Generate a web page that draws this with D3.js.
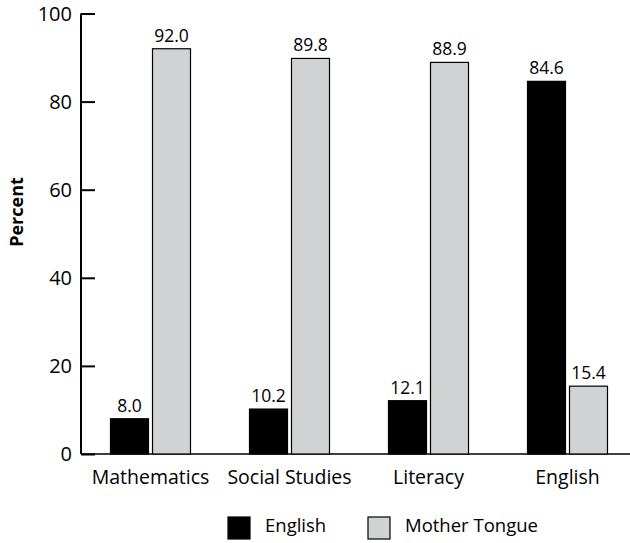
<!DOCTYPE html>
<html><head><meta charset="utf-8">
<script src="https://cdn.jsdelivr.net/npm/d3@7"></script>
<style>body{margin:0;background:#fff;} text{font-family:"Open Sans",sans-serif;fill:#000;}</style>
</head><body>
<svg id="c" width="630" height="543"></svg>
<script>
const categories = ["Mathematics","Social Studies","Literacy","English"];
const seriesNames = ["English","Mother Tongue"];
const englishValues = [8.0,10.2,12.1,84.6];
const motherTongueValues = [92.0,89.8,88.9,15.4];
const yTicks = [0,20,40,60,80,100];
const colors = ["#000000","#d1d2d4"];

const svg = d3.select("#c");
const x0 = d3.scaleBand().domain(categories).range([81,637]).paddingInner(0).paddingOuter(0);
const y = d3.scaleLinear().domain([0,100]).range([454,13.5]);
const barW = 38, gap = 4;
const x1 = d3.scaleOrdinal().domain(seriesNames).range([-(barW+gap/2), gap/2]);

const data = categories.map((c,i)=>({cat:c, vals:[englishValues[i], motherTongueValues[i]]}));

// baseline
svg.append("line").attr("x1",81).attr("x2",630).attr("y1",y(0)).attr("y2",y(0)).attr("stroke","#000").attr("stroke-width",1.3);

const g = svg.selectAll("g.grp").data(data).join("g").attr("class","grp")
  .attr("transform",d=>`translate(${x0(d.cat)+x0.bandwidth()/2},0)`);
g.selectAll("rect").data(d=>d.vals.map((v,j)=>({v,s:seriesNames[j],j}))).join("rect")
  .attr("x",d=>x1(d.s)).attr("width",barW)
  .attr("y",d=>y(d.v)).attr("height",d=>y(0)-y(d.v))
  .attr("fill",d=>colors[d.j]).attr("stroke","#000").attr("stroke-width",1.2);
g.selectAll("text.val").data(d=>d.vals.map((v,j)=>({v,s:seriesNames[j]}))).join("text").attr("class","val")
  .attr("x",d=>x1(d.s)+barW/2).attr("y",d=>y(d.v)-7).attr("text-anchor","middle")
  .attr("font-size",17.5).text(d=>d.v.toFixed(1));

// y axis
const yAxis = d3.axisRight(y).tickValues(yTicks).tickSize(14).tickFormat("");
const ya = svg.append("g").attr("transform","translate(81,0)").call(yAxis);
ya.select(".domain").attr("stroke","#000").attr("stroke-width",2).attr("d",`M0,${y(100)}V${y(0)}`);
ya.selectAll(".tick line").attr("stroke","#000").attr("stroke-width",2);
svg.selectAll("text.yt").data(yTicks).join("text").attr("class","yt")
  .attr("x",72).attr("y",d=>y(d)).attr("dy","0.36em").attr("text-anchor","end").attr("font-size",20).text(d=>d);

// x labels
svg.selectAll("text.xl").data(categories).join("text").attr("class","xl")
  .attr("x",d=>x0(d)+x0.bandwidth()/2).attr("y",484).attr("text-anchor","middle").attr("font-size",19.5).text(d=>d);

// y title
svg.append("text").attr("transform","translate(23,212) rotate(-90)").attr("text-anchor","middle")
  .attr("font-size",18).attr("font-weight","bold").text("Percent");

// legend
const legX = [228,368];
seriesNames.forEach((s,i)=>{
  svg.append("rect").attr("x",legX[i]).attr("y",517).attr("width",22).attr("height",22)
    .attr("fill",colors[i]).attr("stroke","#000").attr("stroke-width",1.2);
  svg.append("text").attr("x",legX[i]+37).attr("y",532).attr("font-size",18.5).text(s);
});
</script>
</body></html>
